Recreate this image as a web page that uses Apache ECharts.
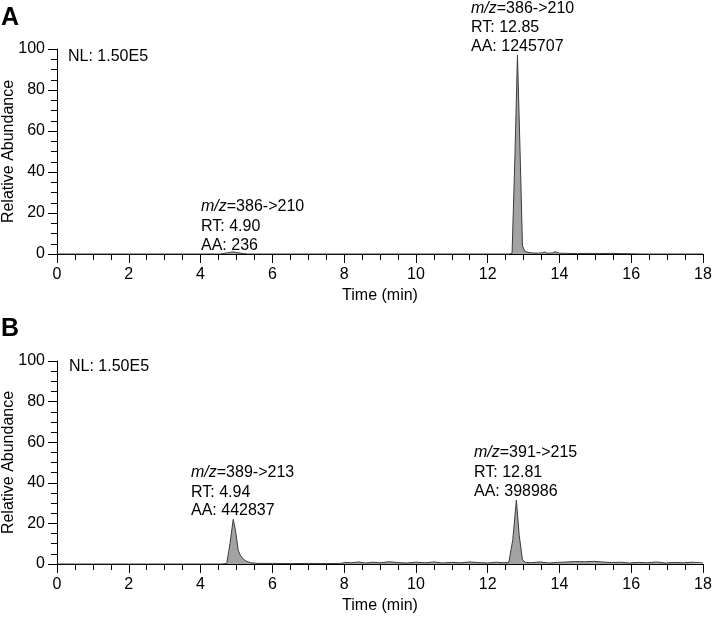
<!DOCTYPE html>
<html><head><meta charset="utf-8">
<script src="https://cdn.jsdelivr.net/npm/echarts@6/dist/echarts.min.js"></script>
<style>html,body{margin:0;padding:0;background:#fff}#c{width:714px;height:617px}</style>
</head><body><div id="c"></div>
<script>
// ---- Data ----
const timeA = [0, 4.55, 4.65, 4.75, 4.85, 4.92, 5.0, 5.1, 5.2, 5.3, 12.6, 12.68, 12.76, 12.83, 12.9, 12.97, 13.04, 13.12, 13.25, 13.4, 13.52, 13.58, 13.66, 13.8, 13.88, 13.93, 14.0, 14.2, 14.5, 14.8, 15.1, 15.4, 15.7, 16.0, 16.3, 18];
const abundanceA = [0, 0, 0.3, 0.6, 0.9, 1.0, 0.7, 0.5, 0.2, 0, 0, 0.3, 48, 97, 52, 4, 1.3, 0.8, 0.5, 0.4, 0.5, 1.0, 0.4, 0.5, 1.1, 0.9, 0.4, 0.3, 0.2, 0.3, 0.2, 0.3, 0.2, 0.1, 0, 0];

const timeB = [0, 4.6, 4.73, 4.82, 4.91, 4.97, 5.05, 5.12, 5.19, 5.28, 5.4, 5.6, 6.0, 6.5, 7.0, 7.5, 7.9, 8.05, 8.2, 8.4, 8.6, 8.8, 9.0, 9.25, 9.5, 9.75, 10.0, 10.25, 10.5, 10.75, 11.0, 11.25, 11.5, 11.75, 12.0, 12.25, 12.45, 12.59, 12.7, 12.8, 12.88, 12.97, 13.05, 13.2, 13.45, 13.7, 13.95, 14.2, 14.45, 14.7, 14.95, 15.2, 15.45, 15.7, 15.95, 16.2, 16.45, 16.7, 16.95, 17.2, 17.45, 17.7, 18];
const abundanceB = [0, 0, 0.3, 10, 22, 17, 6.6, 4, 2.5, 1.3, 0.6, 0.3, 0.3, 0.2, 0.3, 0.2, 0.3, 0.8, 0.6, 1.0, 0.5, 0.9, 0.6, 1.1, 0.7, 0.5, 0.9, 0.6, 1.0, 0.5, 0.8, 0.6, 1.0, 0.7, 0.5, 0.9, 0.6, 0.8, 12, 31.5, 14, 2, 0.8, 0.6, 1.0, 0.5, 0.8, 1.0, 1.2, 1.1, 1.3, 1.0, 0.7, 0.9, 0.5, 0.8, 0.6, 1.0, 0.5, 0.8, 0.6, 0.9, 0.5];

const xTickLabels = [0, 2, 4, 6, 8, 10, 12, 14, 16, 18];
const yTickLabels = [0, 20, 40, 60, 80, 100];
const panelLetters = ['A', 'B'];
const nlLabels = ['NL: 1.50E5', 'NL: 1.50E5'];
const peakLabelsA = [['386->210', 'RT: 4.90', 'AA: 236'], ['386->210', 'RT: 12.85', 'AA: 1245707']];
const peakLabelsB = [['389->213', 'RT: 4.94', 'AA: 442837'], ['391->215', 'RT: 12.81', 'AA: 398986']];
const xAxisTitle = 'Time (min)';
const yAxisTitle = 'Relative Abundance';

// ---- Chart ----
const FONT = '"Liberation Sans", Arial, Helvetica, sans-serif';
const chart = echarts.init(document.getElementById('c'), null, {renderer: 'canvas'});

function xAxisCfg(gi) {
  return {
    type: 'value', gridIndex: gi,
    min: xTickLabels[0], max: xTickLabels[xTickLabels.length - 1], interval: 2,
    name: xAxisTitle, nameLocation: 'middle', nameGap: 34, nameMoveOverlap: false,
    nameTextStyle: {color: '#000', fontSize: 16, fontFamily: FONT},
    axisLine: {show: true, onZero: false, lineStyle: {color: '#000', width: 1}},
    axisTick: {show: true, length: 9, lineStyle: {color: '#000', width: 1}},
    minorTick: {show: true, splitNumber: 4, length: 6, lineStyle: {color: '#000', width: 1}},
    axisLabel: {color: '#000', fontSize: 16, fontFamily: FONT, margin: 13,
      formatter: v => xTickLabels.includes(v) ? String(v) : ''},
    splitLine: {show: false}, minorSplitLine: {show: false}
  };
}
function yAxisCfg(gi) {
  return {
    type: 'value', gridIndex: gi,
    min: yTickLabels[0], max: yTickLabels[yTickLabels.length - 1], interval: 20,
    name: yAxisTitle, nameLocation: 'middle', nameGap: 40, nameMoveOverlap: false,
    nameTextStyle: {color: '#000', fontSize: 16, fontFamily: FONT},
    axisLine: {show: true, onZero: false, lineStyle: {color: '#000', width: 1}},
    axisTick: {show: true, length: 9, lineStyle: {color: '#000', width: 1}},
    minorTick: {show: true, splitNumber: 4, length: 6, lineStyle: {color: '#000', width: 1}},
    axisLabel: {color: '#000', fontSize: 16, fontFamily: FONT, margin: 12,
      formatter: v => yTickLabels.includes(v) ? String(v) : ''},
    splitLine: {show: false}, minorSplitLine: {show: false}
  };
}
function traceSeries(gi, t, v) {
  return {
    type: 'line', xAxisIndex: gi, yAxisIndex: gi,
    data: t.map((x, i) => [x, v[i]]),
    symbol: 'none', smooth: false, silent: true, animation: false,
    lineStyle: {color: '#3c3c3c', width: 1},
    areaStyle: {color: '#a3a3a3', opacity: 1}
  };
}

const txt = (x, y, text, extra) => ({
  type: 'text', x: x, y: y, silent: true,
  style: Object.assign({text: text, fill: '#000', font: '16px ' + FONT, align: 'left', verticalAlign: 'middle'}, extra || {})
});
const mzText = (x, y, s) => txt(x, y, '{i|m/z}=' + s, {rich: {i: {fontStyle: 'italic', fontSize: 16, fontFamily: FONT, fill: '#000'}}});
function annot(x, ys, lines) {
  return [mzText(x, ys[0], lines[0]), txt(x, ys[1], lines[1]), txt(x, ys[2], lines[2])];
}

const graphics = [
  txt(1, 18, panelLetters[0], {font: 'bold 25px ' + FONT}),
  txt(1, 329, panelLetters[1], {font: 'bold 25px ' + FONT}),
  txt(68, 57, nlLabels[0]),
  txt(69, 367, nlLabels[1])
].concat(
  annot(201, [207, 227, 246], peakLabelsA[0]),
  annot(471, [9, 28, 47], peakLabelsA[1]),
  annot(191, [473, 493, 511], peakLabelsB[0]),
  annot(474, [453, 473, 492], peakLabelsB[1])
);

chart.setOption({
  animation: false,
  backgroundColor: '#fff',
  textStyle: {fontFamily: FONT},
  grid: [
    {left: 57, top: 49, width: 646, height: 205, containLabel: false, outerBoundsMode: 'none'},
    {left: 57, top: 361, width: 646, height: 203, containLabel: false, outerBoundsMode: 'none'}
  ],
  xAxis: [xAxisCfg(0), xAxisCfg(1)],
  yAxis: [yAxisCfg(0), yAxisCfg(1)],
  series: [traceSeries(0, timeA, abundanceA), traceSeries(1, timeB, abundanceB)],
  graphic: graphics
});
</script></body></html>
